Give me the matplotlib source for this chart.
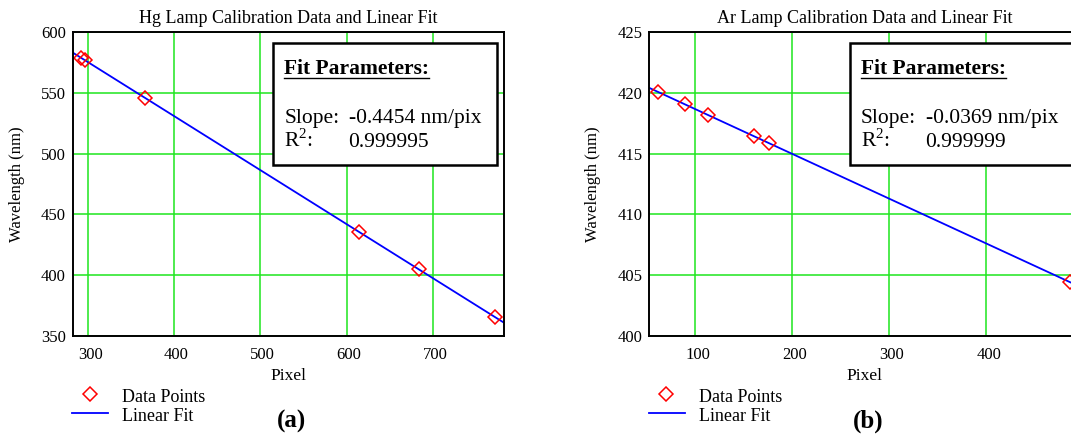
import numpy as np
import matplotlib
matplotlib.use("Agg")
import matplotlib.pyplot as plt
from matplotlib.patches import Rectangle
from matplotlib.lines import Line2D
from matplotlib.transforms import ScaledTranslation

plt.rcParams['font.family'] = ['Liberation Serif', 'DejaVu Serif']
plt.rcParams['mathtext.fontset'] = 'custom'
plt.rcParams['mathtext.rm'] = 'Liberation Serif'

# ---- calibration data ----
hg_pixel = [292, 297, 366, 614, 684, 772]
hg_wavelength = [579.07, 576.96, 546.07, 435.83, 404.66, 365.02]
hg_slope = -0.4454
hg_r2 = "0.999995"

ar_pixel = [62, 89, 113, 161, 176, 486]
ar_wavelength = [420.07, 419.07, 418.19, 416.42, 415.86, 404.44]
ar_slope = -0.0369
ar_r2 = "0.999999"

hg_xticks = [300, 400, 500, 600, 700]
hg_yticks = [350, 400, 450, 500, 550, 600]
ar_xticks = [100, 200, 300, 400]
ar_yticks = [400, 405, 410, 415, 420, 425]

W, H = 1071, 437
fig = plt.figure(figsize=(W / 100, H / 100), dpi=100)


def fx(x):
    return x / W


def fy(y):
    return 1 - y / H


GRID = '#1ee61e'
MS = 7.2


def panel(x0, title, px, wl, slope, r2, xlim, ylim, xticks, yticks, tag):
    width = 431.0
    ax = fig.add_axes([fx(x0), fy(335.7), width / W, 303.4 / H])
    ax.set_xlim(*xlim)
    ax.set_ylim(*ylim)
    ax.set_xticks(xticks)
    ax.set_yticks(yticks)
    ax.tick_params(length=0, labelsize=12, pad=5)
    ax.tick_params(axis='x', pad=8)
    for lab in ax.get_xticklabels():
        lab.set_transform(lab.get_transform() + ScaledTranslation(2.5 / 100, 0, fig.dpi_scale_trans))
    ax.grid(True, color=GRID, linewidth=1.1, zorder=0)
    ax.set_axisbelow(True)
    for s in ax.spines.values():
        s.set_linewidth(1.4)
        s.set_color('black')
        s.set_zorder(5)
    ax.set_title(title, fontsize=13, pad=7)

    # least-squares line with the stated slope through the data centroid
    p = np.array(px, float)
    w = np.array(wl, float)
    intercept = w.mean() - slope * p.mean()
    xs = np.array(xlim, float)
    ax.plot(xs, intercept + slope * xs, color='#0000ff', linewidth=1.3, zorder=3)
    ax.plot(p, w, linestyle='none', marker='D', markersize=MS, markerfacecolor='none',
            markeredgecolor='#ff0000', markeredgewidth=1.1, zorder=4, clip_on=False)

    # fit parameter box
    bx0 = x0 + 200.6
    ax.add_patch(Rectangle((fx(bx0), fy(165)), 224 / W, 121.7 / H, transform=fig.transFigure,
                           facecolor='white', edgecolor='black', linewidth=1.8, zorder=6))
    tx = bx0 + 11
    head = fig.text(fx(tx), fy(74), 'Fit Parameters:', fontsize=15.5, fontweight='bold',
                    va='baseline', ha='left', zorder=7)
    fig.text(fx(tx), fy(122.5), 'Slope:', fontsize=15.5, va='baseline', zorder=7)
    fig.text(fx(tx + 64.7), fy(122.5), f'{slope:.4f} nm/pix', fontsize=15.5, va='baseline', zorder=7)
    fig.text(fx(tx), fy(146.7), r'R$^{\mathregular{2}}$:', fontsize=15.5, va='baseline', zorder=7)
    fig.text(fx(tx + 64), fy(146.7), r2, fontsize=15.5, va='baseline', zorder=7)

    cx = x0 + width / 2
    fig.text(fx(cx), fy(375.7), 'Pixel', fontsize=12.5, ha='center', va='center')
    fig.text(fx(x0 - 56), fy(184), 'Wavelength (nm)', fontsize=12, rotation=90,
             ha='center', va='center')
    fig.text(fx(cx + 3), fy(421.5), tag, fontsize=18, fontweight='bold', ha='center', va='center')

    # legend
    lx = x0 - 0.5
    fig.add_artist(Line2D([fx(lx + 17.5)], [fy(393.5)], marker='D', markersize=MS,
                          markerfacecolor='none', markeredgecolor='#ff0000', markeredgewidth=1.1,
                          linestyle='none', transform=fig.transFigure))
    fig.add_artist(Line2D([fx(lx), fx(lx + 36)], [fy(412.7), fy(412.7)], color='#0000ff',
                          linewidth=1.3, transform=fig.transFigure))
    fig.text(fx(lx + 50), fy(397.3), 'Data Points', fontsize=13, va='center')
    fig.text(fx(lx + 50), fy(416.7), 'Linear Fit', fontsize=13, va='center')
    return head


h1 = panel(72.7, 'Hg Lamp Calibration Data and Linear Fit', hg_pixel, hg_wavelength, hg_slope,
           hg_r2, (282.6, 782), (350, 600), hg_xticks, hg_yticks, '(a)')
h2 = panel(649.3, 'Ar Lamp Calibration Data and Linear Fit', ar_pixel, ar_wavelength, ar_slope,
           ar_r2, (52.6, 497), (400, 425), ar_xticks, ar_yticks, '(b)')

# underline the box headings
fig.canvas.draw()
r = fig.canvas.get_renderer()
for h in (h1, h2):
    bb = h.get_window_extent(r)
    y = bb.y0 + 1.5
    fig.add_artist(Line2D([bb.x0 / W, bb.x1 / W], [y / H, y / H],
                          color='black', linewidth=1.0, transform=fig.transFigure, zorder=8))
fig.savefig('out.png', dpi=100)
